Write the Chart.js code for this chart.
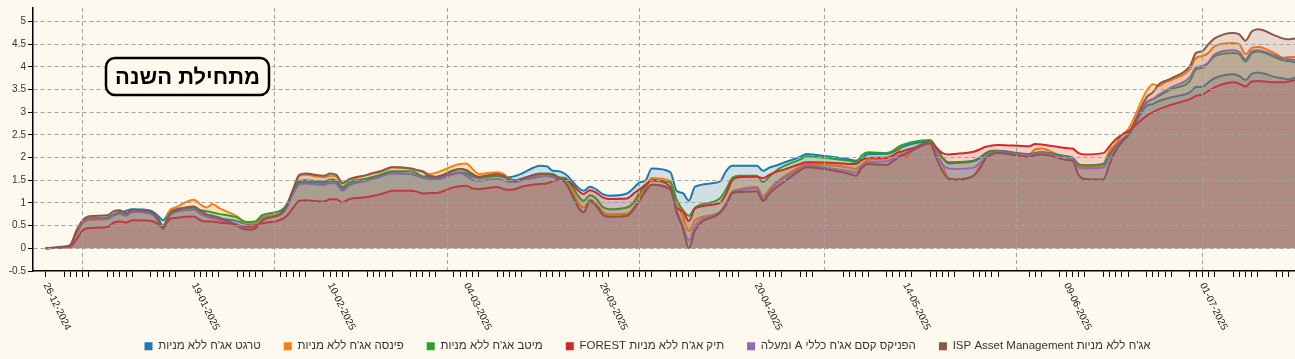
<!DOCTYPE html>
<html><head><meta charset="utf-8">
<script src="https://cdn.jsdelivr.net/npm/chart.js@4/dist/chart.umd.min.js"></script>
<style>html,body{margin:0;padding:0;background:#fdf9ee;overflow:hidden}#wrap{width:1295px;height:359px;position:relative}</style>
</head><body><div id="wrap"><canvas id="c" width="1295" height="359"></canvas></div>
<script>
const dates = [
'26-12-2024','29-12-2024','30-12-2024','31-12-2024','01-01-2025','02-01-2025',
'05-01-2025','06-01-2025','07-01-2025','08-01-2025','09-01-2025',
'12-01-2025','13-01-2025','14-01-2025','15-01-2025','16-01-2025',
'19-01-2025','20-01-2025','21-01-2025','22-01-2025','23-01-2025',
'26-01-2025','27-01-2025','28-01-2025','29-01-2025','30-01-2025',
'02-02-2025','03-02-2025','04-02-2025','05-02-2025','06-02-2025',
'09-02-2025','10-02-2025','11-02-2025','12-02-2025','13-02-2025',
'16-02-2025','17-02-2025','18-02-2025','19-02-2025','20-02-2025',
'23-02-2025','24-02-2025','25-02-2025','26-02-2025','27-02-2025',
'02-03-2025','03-03-2025','04-03-2025','05-03-2025','06-03-2025',
'09-03-2025','10-03-2025','11-03-2025','12-03-2025','13-03-2025',
'16-03-2025','17-03-2025','18-03-2025','19-03-2025','20-03-2025',
'23-03-2025','24-03-2025','25-03-2025','26-03-2025','27-03-2025',
'30-03-2025','31-03-2025','01-04-2025','02-04-2025','03-04-2025',
'06-04-2025','07-04-2025','08-04-2025','09-04-2025','10-04-2025',
'14-04-2025','15-04-2025','16-04-2025','17-04-2025',
'20-04-2025','21-04-2025','22-04-2025','23-04-2025','24-04-2025',
'27-04-2025','28-04-2025','29-04-2025',
'04-05-2025','05-05-2025','06-05-2025','07-05-2025','08-05-2025',
'11-05-2025','12-05-2025','13-05-2025','14-05-2025','15-05-2025',
'18-05-2025','19-05-2025','20-05-2025','21-05-2025','22-05-2025',
'25-05-2025','26-05-2025','27-05-2025','28-05-2025','29-05-2025',
'03-06-2025','04-06-2025','05-06-2025',
'08-06-2025','09-06-2025','10-06-2025','11-06-2025','12-06-2025',
'15-06-2025','16-06-2025','17-06-2025','18-06-2025','19-06-2025',
'22-06-2025','23-06-2025','24-06-2025','25-06-2025','26-06-2025',
'29-06-2025','30-06-2025','01-07-2025','02-07-2025','03-07-2025',
'06-07-2025','07-07-2025','08-07-2025','09-07-2025','10-07-2025',
'13-07-2025','14-07-2025','15-07-2025','16-07-2025'
];
const xTickLabels = ['26-12-2024','19-01-2025','10-02-2025','04-03-2025','26-03-2025','20-04-2025','14-05-2025','09-06-2025','01-07-2025'];
const monthGridDates = ['01-01-2025','01-02-2025','01-03-2025','01-04-2025','01-05-2025','01-06-2025','01-07-2025'];
const seriesNames = [
"טרגט אג'ח ללא מניות",
"פינסה אג'ח ללא מניות",
"מיטב אג'ח ללא מניות",
"תיק אג'ח ללא מניות FOREST",
"הפניקס קסם אג'ח כללי A ומעלה",
"אג'ח ללא מניות ISP Asset Management"
];
const seriesColors = ['#1f77b4','#ff7f0e','#2ca02c','#d62728','#9467bd','#8c564b'];
const chartTitle = 'מתחילת השנה';

const target = [
0,0.03,0.07,0.38,0.6,0.66,0.66,0.72,0.78,0.83,
0.86,0.83,0.74,0.62,0.81,0.86,0.9,0.82,0.74,0.7,
0.66,0.6,0.55,0.53,0.55,0.66,0.77,0.95,1.25,1.45,
1.47,1.44,1.48,1.46,1.3,1.4,1.52,1.56,1.6,1.64,
1.66,1.64,1.62,1.58,1.56,1.55,1.65,1.68,1.65,1.58,
1.55,1.6,1.58,1.57,1.6,1.65,1.82,1.81,1.71,1.7,
1.64,1.27,1.36,1.3,1.2,1.16,1.21,1.32,1.45,1.5,
1.76,1.68,1.27,1.22,1.05,1.36,1.47,1.7,1.82,1.82,
1.82,1.71,1.78,1.82,1.87,2.02,2.08,2.07,1.98,1.96,
1.93,2.0,2.08,2.08,2.12,2.2,2.26,2.3,2.36,2.2,
2.0,1.9,1.9,1.93,2.0,2.1,2.15,2.15,2.07,2.1,
2.12,2.05,2.02,2.0,1.85,1.82,1.85,2.05,2.2,2.35,
2.48,3.14,3.18,3.25,3.29,3.33,3.44,3.56,3.56,3.66,
3.75,3.84,3.8,3.71,3.85,3.88,3.77,3.75,3.73,3.77
];
const pinsa = [
0,0.02,0.05,0.3,0.55,0.62,0.64,0.74,0.76,0.72,
0.82,0.76,0.66,0.48,0.83,0.9,1.07,0.97,0.9,0.98,
0.89,0.7,0.58,0.55,0.56,0.7,0.78,0.92,1.28,1.6,
1.62,1.57,1.6,1.58,1.45,1.5,1.62,1.66,1.7,1.75,
1.79,1.76,1.72,1.7,1.64,1.66,1.82,1.86,1.87,1.75,
1.64,1.68,1.64,1.53,1.48,1.52,1.62,1.64,1.6,1.55,
1.5,0.9,1.07,0.98,0.82,0.75,0.76,0.88,1.15,1.35,
1.55,1.48,1.05,0.7,0.38,0.62,0.8,1.0,1.25,1.3,
1.35,1.15,1.3,1.45,1.55,1.8,1.86,1.86,1.8,1.78,
1.75,1.85,1.95,1.98,2.05,2.15,2.0,2.15,2.32,2.12,
1.85,1.52,1.5,1.6,1.8,2.0,2.1,2.13,2.08,2.18,
2.2,2.05,2.02,2.0,1.8,1.78,1.85,2.15,2.3,2.5,
2.62,3.47,3.62,3.58,3.66,3.71,3.95,4.2,4.24,4.31,
4.46,4.53,4.5,4.28,4.42,4.44,4.28,4.2,4.22,4.22
];
const meitav = [
0,0.03,0.07,0.35,0.58,0.66,0.68,0.76,0.8,0.76,
0.84,0.78,0.7,0.5,0.75,0.84,0.9,0.84,0.82,0.79,
0.76,0.68,0.6,0.58,0.6,0.73,0.83,0.97,1.28,1.49,
1.5,1.47,1.52,1.5,1.35,1.45,1.54,1.58,1.62,1.67,
1.7,1.7,1.66,1.58,1.6,1.57,1.73,1.75,1.71,1.62,
1.57,1.6,1.57,1.53,1.5,1.54,1.64,1.65,1.64,1.57,
1.55,1.05,1.17,1.1,0.92,0.86,0.9,1.0,1.22,1.38,
1.5,1.45,1.08,0.85,0.72,0.9,1.1,1.3,1.55,1.6,
1.6,1.46,1.58,1.7,1.79,1.96,2.03,2.02,1.95,1.93,
1.9,2.06,2.12,2.1,2.15,2.25,2.3,2.34,2.39,2.22,
2.0,1.87,1.88,1.92,1.98,2.08,2.14,2.14,2.08,2.1,
2.12,2.06,2.03,2.0,1.85,1.83,1.86,2.08,2.25,2.4,
2.52,3.22,3.29,3.36,3.44,3.51,3.69,3.95,3.98,4.1,
4.24,4.31,4.28,4.12,4.3,4.34,4.2,4.15,4.13,4.1
];
const forest = [
0,0.02,0.04,0.2,0.4,0.45,0.47,0.57,0.59,0.57,
0.62,0.61,0.55,0.46,0.64,0.67,0.7,0.62,0.59,0.59,
0.57,0.52,0.48,0.48,0.51,0.55,0.63,0.72,0.89,1.05,
1.06,1.03,1.08,1.08,1.01,1.08,1.13,1.16,1.19,1.23,
1.27,1.27,1.25,1.21,1.22,1.22,1.35,1.37,1.38,1.32,
1.31,1.35,1.31,1.29,1.31,1.36,1.42,1.43,1.48,1.51,
1.52,1.2,1.28,1.23,1.13,1.09,1.1,1.2,1.3,1.41,
1.5,1.36,0.9,0.82,0.6,0.88,1.0,1.2,1.5,1.57,
1.58,1.55,1.62,1.68,1.72,1.86,1.9,1.9,1.87,1.86,
1.86,1.95,2.0,2.0,2.05,2.12,2.16,2.2,2.34,2.22,
2.1,2.07,2.08,2.13,2.18,2.24,2.27,2.28,2.25,2.3,
2.29,2.23,2.21,2.2,2.1,2.07,2.1,2.25,2.4,2.5,
2.58,2.92,3.0,3.07,3.12,3.17,3.29,3.36,3.39,3.47,
3.55,3.66,3.63,3.57,3.68,3.69,3.66,3.66,3.68,3.71
];
const phoenix = [
0,0.03,0.07,0.36,0.57,0.64,0.65,0.74,0.76,0.72,
0.8,0.77,0.64,0.42,0.72,0.8,0.85,0.76,0.7,0.67,
0.63,0.53,0.45,0.43,0.45,0.64,0.74,0.9,1.2,1.41,
1.43,1.4,1.44,1.42,1.27,1.38,1.49,1.53,1.57,1.62,
1.65,1.64,1.6,1.55,1.53,1.51,1.64,1.66,1.6,1.51,
1.49,1.53,1.5,1.46,1.46,1.5,1.58,1.6,1.57,1.53,
1.46,0.79,1.03,0.93,0.74,0.69,0.72,0.84,1.05,1.25,
1.4,1.3,0.85,0.5,0.17,0.5,0.8,0.98,1.22,1.27,
1.33,1.09,1.25,1.4,1.51,1.76,1.83,1.82,1.72,1.7,
1.67,1.82,1.9,1.92,1.98,2.05,2.1,2.16,2.33,2.1,
1.85,1.76,1.75,1.78,1.88,2.02,2.1,2.12,2.05,2.08,
2.1,2.02,2.0,1.98,1.78,1.76,1.78,2.0,2.2,2.4,
2.52,3.22,3.29,3.39,3.47,3.55,3.77,3.99,4.02,4.1,
4.28,4.37,4.33,4.17,4.35,4.37,4.24,4.2,4.17,4.15
];
const isp = [
0,0.04,0.08,0.4,0.62,0.71,0.73,0.82,0.84,0.77,
0.85,0.8,0.68,0.45,0.75,0.83,0.92,0.83,0.75,0.72,
0.68,0.5,0.42,0.41,0.45,0.61,0.77,0.95,1.3,1.62,
1.65,1.6,1.65,1.62,1.43,1.52,1.62,1.66,1.69,1.74,
1.79,1.76,1.73,1.69,1.6,1.58,1.71,1.75,1.73,1.64,
1.58,1.64,1.6,1.51,1.49,1.53,1.65,1.64,1.62,1.55,
1.45,0.8,1.05,0.95,0.76,0.7,0.72,0.85,1.05,1.28,
1.4,1.3,0.8,0.45,0.0,0.4,0.78,0.95,1.22,1.24,
1.26,1.04,1.2,1.33,1.43,1.72,1.79,1.78,1.67,1.64,
1.6,1.78,1.86,1.84,1.92,2.02,2.08,2.15,2.32,2.0,
1.7,1.54,1.52,1.6,1.75,1.98,2.08,2.1,2.02,2.05,
2.07,1.98,1.95,1.94,1.62,1.53,1.52,1.85,2.15,2.35,
2.5,3.33,3.44,3.62,3.69,3.75,4.02,4.31,4.35,4.5,
4.63,4.75,4.72,4.58,4.78,4.83,4.68,4.63,4.61,4.63
];
const seriesValues = [target, pinsa, meitav, forest, phoenix, isp];

const FONT = '"Liberation Sans", Arial, sans-serif';
const ORIGIN = Date.UTC(2024, 11, 26);
function dayOf(s){ const p = s.split('-').map(Number); return (Date.UTC(p[2], p[1]-1, p[0]) - ORIGIN) / 86400000; }
function hexA(h, a){ const n = parseInt(h.slice(1), 16); return 'rgba(' + (n>>16) + ',' + ((n>>8)&255) + ',' + (n&255) + ',' + a + ')'; }

const tradeDays = new Set(dates.map(dayOf));
const monthDays = new Set(monthGridDates.map(dayOf));
const allTicks = Array.from(new Set([...tradeDays, ...monthDays])).sort((a,b)=>a-b);

Chart.defaults.font.family = FONT;

const datasets = seriesNames.map((name, i) => ({
  label: name,
  data: dates.map((d, j) => ({x: dayOf(d), y: seriesValues[i][j]})),
  borderColor: seriesColors[i],
  backgroundColor: hexA(seriesColors[i], 0.2),
  fill: 'origin',
  borderWidth: 2,
  pointRadius: 0,
  cubicInterpolationMode: 'monotone',
  order: seriesNames.length - 1 - i
}));

const decor = {
  id: 'decor',
  afterLayout(chart){ chart.legend.top += 3; chart.legend.bottom += 3; },
  afterDraw(chart){
    const ctx = chart.ctx, xs = chart.scales.x, area = chart.chartArea;
    ctx.save();
    ctx.direction = 'ltr';
    ctx.font = '10px ' + FONT;
    ctx.fillStyle = '#222';
    ctx.textAlign = 'left';
    ctx.textBaseline = 'middle';
    xTickLabels.forEach(lbl => {
      const px = xs.getPixelForValue(dayOf(lbl));
      ctx.save();
      ctx.translate(px, area.bottom + 12.5);
      ctx.rotate(64 * Math.PI / 180);
      ctx.fillText(lbl, 0, 0);
      ctx.restore();
    });
    const bx = 106, by = 58, bw = 163, bh = 37, r = 9;
    ctx.beginPath();
    ctx.moveTo(bx + r, by);
    ctx.arcTo(bx + bw, by, bx + bw, by + bh, r);
    ctx.arcTo(bx + bw, by + bh, bx, by + bh, r);
    ctx.arcTo(bx, by + bh, bx, by, r);
    ctx.arcTo(bx, by, bx + bw, by, r);
    ctx.closePath();
    ctx.fillStyle = '#fdf9ee';
    ctx.fill();
    ctx.lineWidth = 2.5;
    ctx.strokeStyle = '#000';
    ctx.stroke();
    ctx.fillStyle = '#000';
    ctx.font = 'bold 22px ' + FONT;
    ctx.direction = 'rtl';
    ctx.textAlign = 'center';
    ctx.textBaseline = 'middle';
    ctx.fillText(chartTitle, bx + bw / 2, by + bh / 2 + 1);
    ctx.restore();
  }
};

new Chart(document.getElementById('c'), {
  type: 'line',
  data: { datasets },
  plugins: [decor],
  options: {
    responsive: false,
    animation: false,
    devicePixelRatio: 1,
    layout: { padding: { top: 6, right: 0, left: 0, bottom: 0 } },
    scales: {
      x: {
        type: 'linear',
        min: -2.05,
        max: dayOf(dates[dates.length - 1]),
        afterBuildTicks: s => { s.ticks = allTicks.map(v => ({value: v})); },
        afterFit: s => { s.height = 43.5; },
        ticks: { display: false },
        grid: {
          z: 1,
          color: c => (c.tick && monthDays.has(c.tick.value)) ? '#a3a3a3' : 'rgba(0,0,0,0)',
          lineWidth: 1,
          drawTicks: true,
          tickLength: 6,
          tickWidth: 1,
          tickColor: c => (c.tick && tradeDays.has(c.tick.value)) ? '#000' : 'rgba(0,0,0,0)'
        },
        border: { display: true, color: '#000', width: 1.5, dash: [4, 3], z: 1 }
      },
      y: {
        min: -0.5,
        max: 5.3,
        afterFit: s => { s.width = 33; },
        ticks: { stepSize: 0.5, includeBounds: false, padding: 2, color: '#333', font: { size: 10 },
                 callback: v => String(Math.round(v * 10) / 10) },
        grid: {
          z: 1,
          color: c => (c.tick && c.tick.value === -0.5) ? 'rgba(0,0,0,0)' : '#a3a3a3',
          lineWidth: 1,
          tickLength: 5,
          tickColor: '#000'
        },
        border: { display: true, color: '#000', width: 1.5, dash: [4, 3], z: 1 }
      }
    },
    plugins: {
      tooltip: { enabled: false },
      title: { display: false },
      legend: {
        position: 'bottom',
        align: 'center',
        labels: {
          boxWidth: 8,
          boxHeight: 8,
          padding: 23,
          color: '#333',
          font: { size: 11.5 },
          sort: (a, b) => a.datasetIndex - b.datasetIndex,
          generateLabels: chart => Chart.defaults.plugins.legend.labels.generateLabels(chart).map(it => {
            it.text = '\u202B' + it.text + '\u202C';
            it.fillStyle = seriesColors[it.datasetIndex];
            it.strokeStyle = seriesColors[it.datasetIndex];
            it.lineWidth = 0;
            return it;
          })
        }
      }
    }
  }
});
</script>
</body></html>
